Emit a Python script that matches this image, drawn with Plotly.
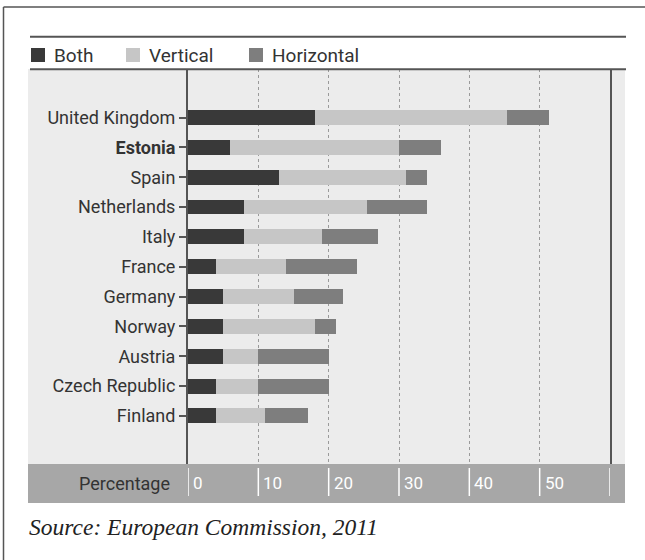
import plotly.graph_objects as go

# ---------------- data ----------------
countries = ["United Kingdom", "Estonia", "Spain", "Netherlands", "Italy", "France",
             "Germany", "Norway", "Austria", "Czech Republic", "Finland"]
both = [18, 6, 13, 8, 8, 4, 5, 5, 5, 4, 4]
vertical = [27.4, 24, 18, 17.5, 11, 10, 10, 13, 5, 6, 7]
horizontal = [5.9, 6, 3, 8.5, 8, 10, 7, 3, 10, 10, 6]
series_names = ["Both", "Vertical", "Horizontal"]
series_colors = ["#393939", "#c6c6c6", "#7e7e7e"]
x_tick_values = [0, 10, 20, 30, 40, 50]
x_tick_labels = ["0", "10", "20", "30", "40", "50"]
x_max = 60
axis_title = "Percentage"
source_text = "Source: European Commission, 2011"
highlight = "Estonia"

# ---------------- layout geometry ----------------
W, H = 645, 560
ML, MR, MT, MB = 188, 35, 69, 96
PW, PH = W - ML - MR, H - MT - MB


def px(xp):
    return (xp - ML) / PW


def py(yp):
    return (H - MB - yp) / PH


FONT = "Roboto"
fig = go.Figure()
for name, vals, col in zip(series_names, [both, vertical, horizontal], series_colors):
    fig.add_trace(go.Bar(
        y=countries, x=vals, name=name, orientation="h",
        marker=dict(color=col, line=dict(width=0)),
        width=0.5, showlegend=False,
    ))

ticktext = [f"<b>{c}</b>" if c == highlight else c for c in countries]

shapes = []
# light plot background extending left behind labels
shapes.append(dict(type="rect", xref="paper", yref="paper", x0=px(28), x1=px(625),
                   y0=0, y1=1, fillcolor="#ececec", line=dict(width=0), layer="below"))
# bottom band
shapes.append(dict(type="rect", xref="paper", yref="paper", x0=px(28), x1=px(625),
                   y0=py(503), y1=0, fillcolor="#a7a7a7", line=dict(width=0), layer="below"))
# rules
for yy in (36.7, 69.3):
    shapes.append(dict(type="line", xref="paper", yref="paper", x0=px(30), x1=px(626),
                       y0=py(yy), y1=py(yy), line=dict(color="#555555", width=2)))
# outer border (left and top)
shapes.append(dict(type="line", xref="paper", yref="paper", x0=px(3.5), x1=px(3.5),
                   y0=py(575), y1=py(7), line=dict(color="#555555", width=1.5)))
shapes.append(dict(type="line", xref="paper", yref="paper", x0=px(3.5), x1=px(660),
                   y0=py(7), y1=py(7), line=dict(color="#555555", width=1.5)))
# white tick marks in the band
for v in x_tick_values + [x_max]:
    shapes.append(dict(type="line", xref="x", yref="paper", x0=v, x1=v,
                       y0=py(468), y1=py(496), line=dict(color="white", width=1.5)))

annotations = []
for v, lab in zip(x_tick_values, x_tick_labels):
    annotations.append(dict(x=v, y=py(483), xref="x", yref="paper", text=lab,
                            showarrow=False, xanchor="left", yanchor="middle", xshift=3,
                            font=dict(family=FONT, size=17, color="white")))
annotations.append(dict(x=px(172), y=py(483), xref="paper", yref="paper", text=axis_title,
                        showarrow=False, xanchor="right", yanchor="middle",
                        font=dict(family=FONT, size=18, color="#333333")))
annotations.append(dict(x=px(27), y=py(527), xref="paper", yref="paper",
                        text=f"<i>{source_text}</i>", showarrow=False,
                        xanchor="left", yanchor="middle",
                        font=dict(family="Liberation Serif", size=23.5, color="#222222")))

# custom legend
leg_sq_x = [31, 126, 249]
for name, col, x0 in zip(series_names, series_colors, leg_sq_x):
    shapes.append(dict(type="rect", xref="paper", yref="paper", x0=px(x0), x1=px(x0 + 14),
                       y0=py(62), y1=py(48), fillcolor=col, line=dict(width=0)))
    annotations.append(dict(x=px(x0 + 21), y=py(55), xref="paper", yref="paper", text=name,
                            showarrow=False, xanchor="left", yanchor="middle",
                            font=dict(family=FONT, size=19, color="#333333")))

fig.update_layout(
    width=W, height=H, barmode="stack",
    margin=dict(l=ML, r=MR, t=MT, b=MB),
    paper_bgcolor="white", plot_bgcolor="rgba(0,0,0,0)",
    shapes=shapes, annotations=annotations,
    xaxis=dict(range=[0, x_max], tickvals=x_tick_values + [x_max], showticklabels=False,
               showgrid=True, gridcolor="#9a9a9a", griddash="dot", gridwidth=1,
               zeroline=False, showline=False, ticks=""),
    yaxis=dict(type="category", categoryarray=countries, range=[11.61, -1.625],
               tickvals=countries, ticktext=ticktext,
               showline=True, linecolor="#555555", linewidth=2, mirror=True,
               ticks="outside", ticklen=7, tickcolor="#555555", tickwidth=1.5,
               showgrid=False, zeroline=False,
               tickfont=dict(family=FONT, size=18, color="#333333")),
)

fig.write_html("out.html", config={"displayModeBar": False},
               post_script="document.body.style.margin='0';document.body.style.padding='0';")
